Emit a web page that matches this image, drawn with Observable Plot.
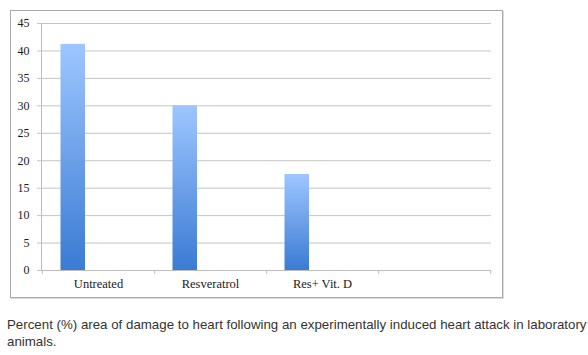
<!DOCTYPE html>
<html>
<head>
<meta charset="utf-8">
<script src="https://cdn.jsdelivr.net/npm/d3@7"></script>
<script src="https://cdn.jsdelivr.net/npm/@observablehq/plot@0.6"></script>
<style>
  body { margin: 0; background: #fff; width: 588px; height: 355px; position: relative; overflow: hidden; }
  #frame { position: absolute; left: 10px; top: 10px; width: 493px; height: 288px; box-sizing: border-box; border: 1px solid #aaaaaa; box-shadow: 1px 1px 0 #dcdcdc; }
  #chart { position: absolute; left: 0; top: 0; }
  #caption { position: absolute; left: 7px; top: 316px; width: 600px; font: 13.3px "Liberation Sans", Arial, sans-serif; line-height: 17px; color: #333; white-space: normal; }
</style>
</head>
<body>
<div id="frame"></div>
<div id="chart"></div>
<div id="caption">Percent (%) area of damage to heart following an experimentally induced heart attack in laboratory animals.</div>
<script>
const categories = ["Untreated", "Resveratrol", "Res+ Vit. D", ""];
const values = [41.2, 30.0, 17.5];
const yTicks = [0, 5, 10, 15, 20, 25, 30, 35, 40, 45];

const data = values.map((v, i) => ({category: categories[i], value: v}));

const serif = "'Liberation Serif', 'DejaVu Serif', serif";

const svg = Plot.plot({
  width: 588,
  height: 300,
  marginLeft: 41,
  marginRight: 97,
  marginTop: 23,
  marginBottom: 30,
  style: {background: "transparent", fontFamily: serif, fontSize: "12px", color: "#222"},
  x: {type: "band", domain: categories, padding: 0, label: null},
  y: {domain: [0, 45], ticks: yTicks, label: null},
  marks: [
    Plot.gridY(yTicks, {stroke: "#c4c4c4", strokeOpacity: 1}),
    Plot.axisY(yTicks, {tickSize: 4, tickPadding: 8, stroke: "#c4c4c4", fill: "#1a1a1a", fontSize: 12}),
    Plot.frame({anchor: "left", stroke: "#bdbdbd"}),
    Plot.ruleY([0], {stroke: "#bdbdbd"}),
    Plot.ruleX(categories, {x: d => d, dx: 56.25, y1: 0, y2: 0, insetBottom: -4, stroke: "#bdbdbd"}),
    Plot.ruleX(categories.slice(0, 1), {x: d => d, dx: -56.25, y1: 0, y2: 0, insetBottom: -4, stroke: "#bdbdbd"}),
    Plot.barY(data, {x: "category", y: "value", fill: "url(#barGrad)", insetLeft: 18.5, insetRight: 69}),
    Plot.axisX({tickSize: 0, tickPadding: 9, fill: "#1a1a1a", fontSize: 12.5})
  ]
});

const defs = document.createElementNS("http://www.w3.org/2000/svg", "defs");
defs.innerHTML = `<linearGradient id="barGrad" x1="0" y1="0" x2="0" y2="1">
  <stop offset="0" stop-color="#9ec6ff"/>
  <stop offset="1" stop-color="#3a7bd3"/>
</linearGradient>`;
svg.insertBefore(defs, svg.firstChild);

document.getElementById("chart").appendChild(svg);
</script>
</body>
</html>
